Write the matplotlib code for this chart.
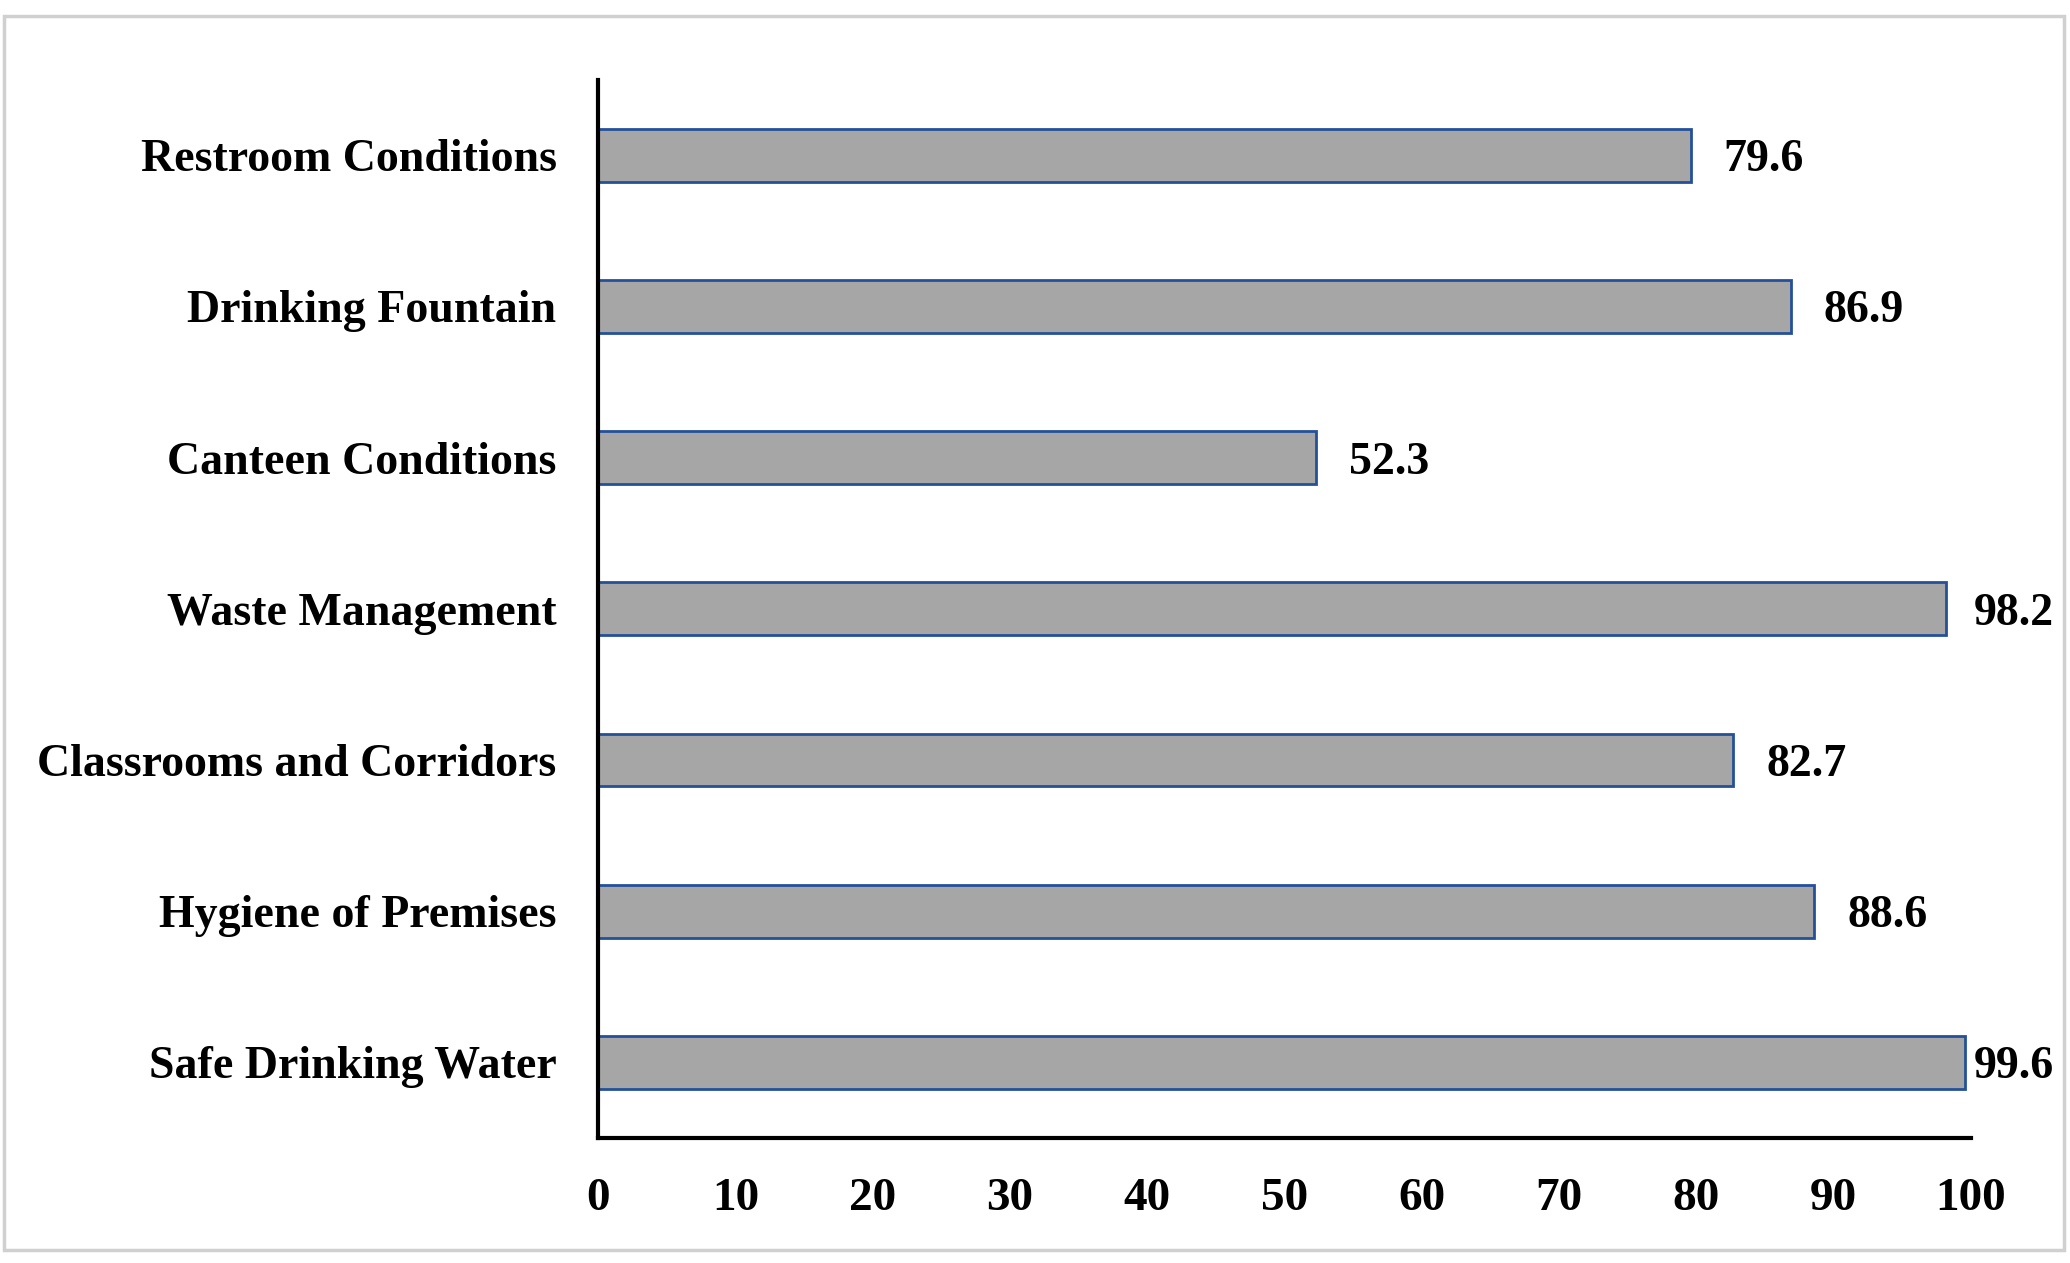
import matplotlib.pyplot as plt
from matplotlib.patches import Rectangle

categories = ["Safe Drinking Water", "Hygiene of Premises", "Classrooms and Corridors",
              "Waste Management", "Canteen Conditions", "Drinking Fountain",
              "Restroom Conditions"]
values = [99.6, 88.6, 82.7, 98.2, 52.3, 86.9, 79.6]
xticks = list(range(0, 101, 10))

plt.rcParams['font.family'] = ['Liberation Serif', 'DejaVu Serif']
plt.rcParams['font.weight'] = 'bold'

fig = plt.figure(figsize=(20.7, 12.63), dpi=100)
ax = fig.add_axes([0.289, 0.099, 0.663, 0.838])

pos = list(range(len(categories)))
ax.barh(pos, values, height=0.35, color='#A6A6A6', edgecolor='#24509A', linewidth=2)

# value labels just right of each bar, kept inside the frame
for p, v in zip(pos, values):
    ax.text(min(v + 2.4, 100.2), p, f"{v:.1f}", va='center_baseline', ha='left',
            fontsize=33, fontweight='bold')

ax.set_xlim(0, 100)
ax.set_ylim(-0.5, 6.5)
ax.set_xticks(xticks)
ax.set_yticks(pos)
ax.set_yticklabels(categories)
ax.tick_params(axis='both', length=0)
ax.tick_params(axis='x', pad=29, labelsize=34)
ax.tick_params(axis='y', pad=30, labelsize=33)
for lab in ax.get_xticklabels() + ax.get_yticklabels():
    lab.set_fontweight('bold')

for s in ['top', 'right']:
    ax.spines[s].set_visible(False)
for s in ['left', 'bottom']:
    ax.spines[s].set_linewidth(3)
    ax.spines[s].set_color('black')

# light grey frame around the whole chart
fig.patches.append(Rectangle((0.002, 0.01), 0.995, 0.977, transform=fig.transFigure,
                             fill=False, edgecolor='#D0D0D0', linewidth=2.5))

fig.savefig('out.png', dpi=100)
